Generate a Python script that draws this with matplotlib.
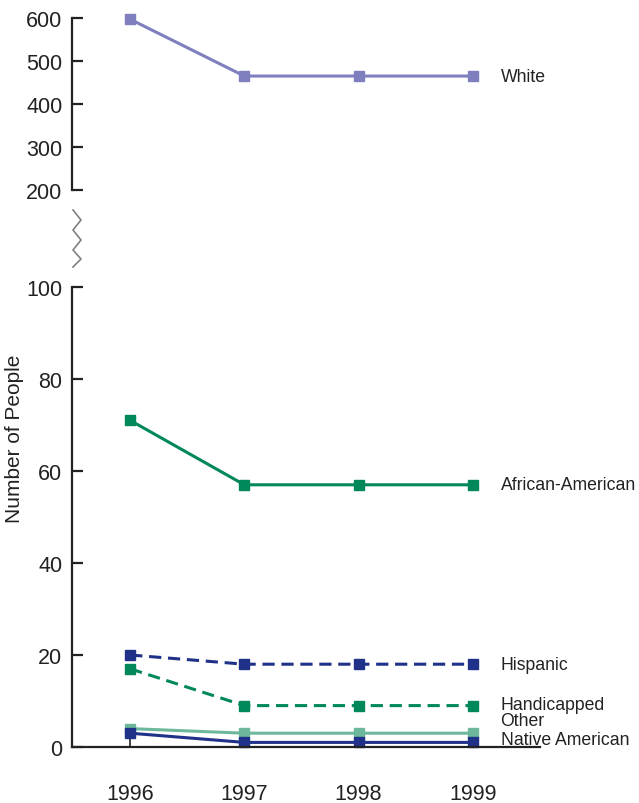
import matplotlib
matplotlib.use("Agg")
import matplotlib.pyplot as plt
from matplotlib.lines import Line2D

plt.rcParams['font.family'] = ['Liberation Sans', 'DejaVu Sans']

years = [1996, 1997, 1998, 1999]
white = [597, 465, 465, 465]
african_american = [71, 57, 57, 57]
hispanic = [20, 18, 18, 18]
handicapped = [17, 9, 9, 9]
other = [4, 3, 3, 3]
native_american = [3, 1, 1, 1]

# label y positions for the series names on the right
label_names = ["African-American", "Hispanic", "Handicapped", "Other", "Native American"]
label_y = [57, 18, 9.2, 5.8, 1.6]

purple = "#7f7fbf"
green = "#00875a"
navy = "#1f3188"
light_green = "#6db89b"
txt = "#222222"

W, H = 639, 804
fig = plt.figure(figsize=(W / 100, H / 100), dpi=100)

left = 72 / W
width = (540 - 72) / W
ax_top = fig.add_axes([left, 1 - 191 / H, width, (191 - 19) / H])
ax = fig.add_axes([left, 1 - 748 / H, width, (748 - 288) / H])

line_kw = dict(lw=2.2, marker="s", markersize=7, clip_on=False)

ax_top.plot(years, white, color=purple, **line_kw)
ax_top.set_ylim(200, 600)
ax_top.set_yticks([200, 300, 400, 500, 600])
ax_top.set_xticks([])
ax_top.text(1999.245, white[-1], "White", va="center", fontsize=12.7, color=txt)

ax.plot(years, african_american, color=green, **line_kw)
ax.plot(years, hispanic, color=navy, dashes=(4, 2.2), **line_kw)
ax.plot(years, handicapped, color=green, dashes=(4, 2.2), **line_kw)
ax.plot(years, other, color=light_green, **line_kw)
ax.plot(years, native_american, color=navy, **line_kw)
for name, y in zip(label_names, label_y):
    ax.text(1999.245, y, name, va="center", fontsize=12.7, color=txt)

ax.set_ylim(0, 100)
ax.set_yticks([0, 20, 40, 60, 80, 100])
ax.set_xticks(years)

for a in (ax_top, ax):
    a.set_xlim(1995.49, 1999.59)
    for s in ("top", "right"):
        a.spines[s].set_visible(False)
    a.spines["left"].set_linewidth(1.6)
    a.spines["left"].set_color(txt)
    a.tick_params(axis="y", direction="in", length=8, width=1.6, pad=7,
                  labelsize=15.5, colors=txt)
    a.patch.set_visible(False)

ax_top.spines["bottom"].set_visible(False)
ax.spines["bottom"].set_linewidth(1.6)
ax.spines["bottom"].set_color(txt)
ax.tick_params(axis="x", direction="in", length=8, width=1.2, pad=26,
               labelsize=15.5, colors=txt)

fig.text(15 / W, 1 - 439 / H, "Number of People", rotation=90,
         ha="center", va="center", fontsize=15, color=txt)

# axis break zigzag
zx = [73, 81, 73, 81, 73, 81, 73]
zy = [211, 221, 231, 241, 251, 260, 268]
fig.add_artist(Line2D([x / W for x in zx], [1 - y / H for y in zy],
                      color="#808080", lw=1.2, transform=fig.transFigure))

fig.savefig("out.png", dpi=100)
